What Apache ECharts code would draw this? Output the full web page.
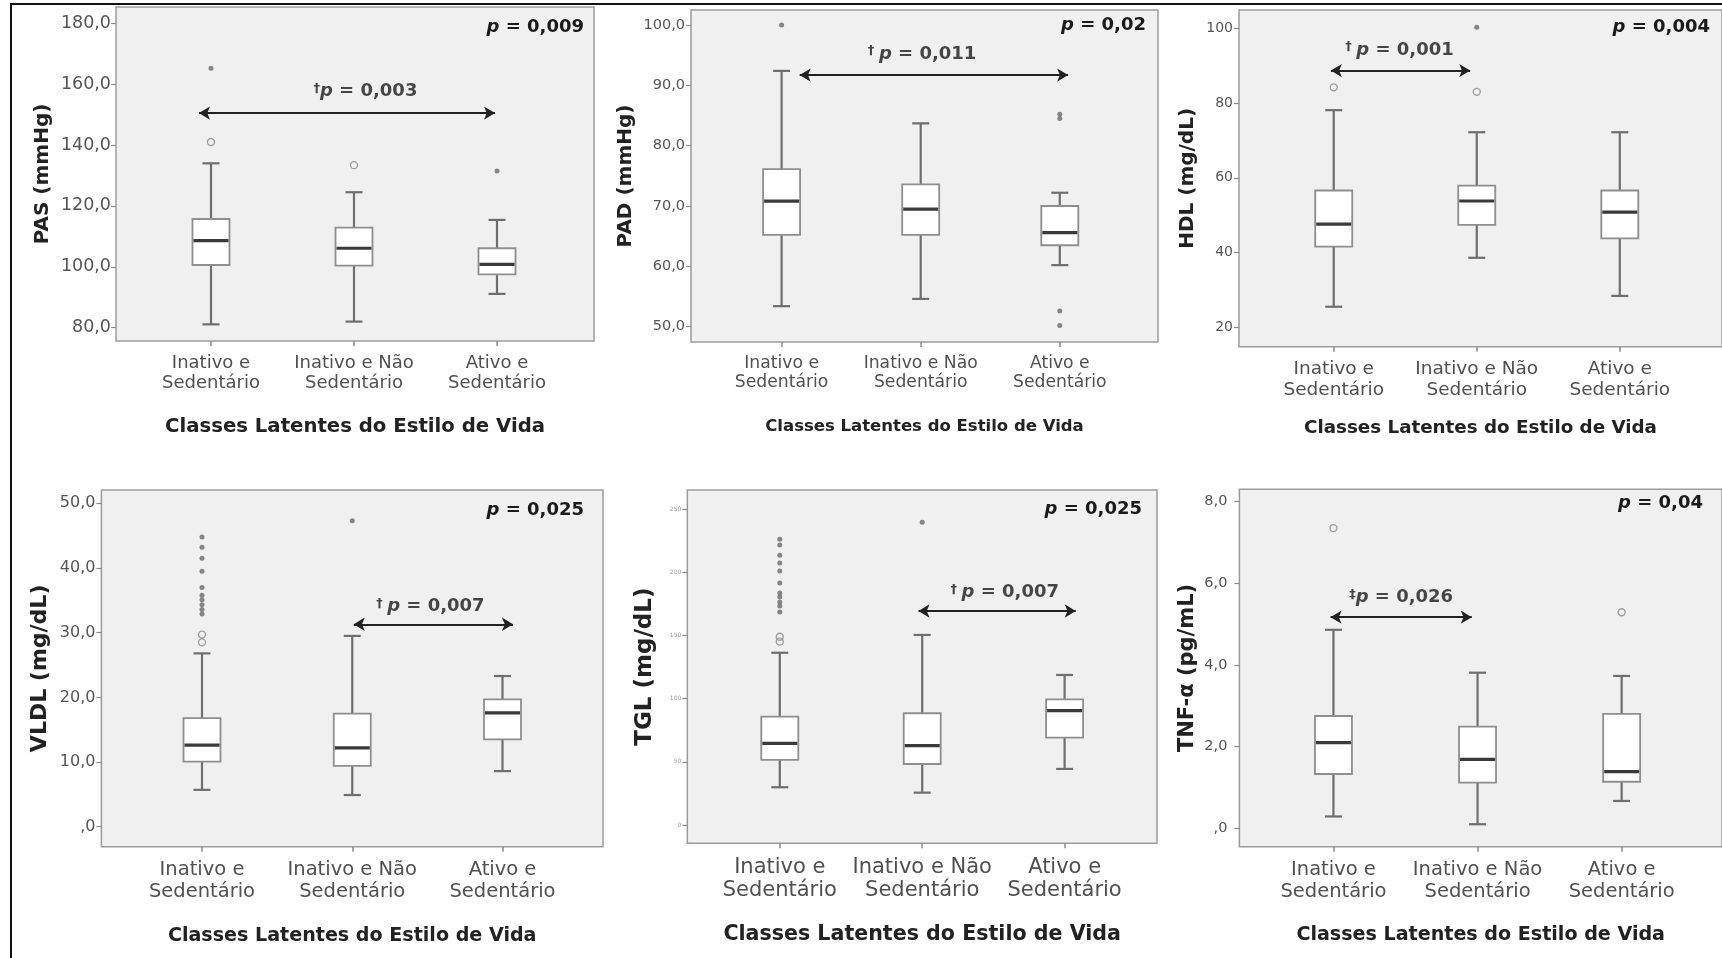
<!DOCTYPE html>
<html>
<head>
<meta charset="utf-8">
<script src="https://cdn.jsdelivr.net/npm/echarts@6/dist/echarts.min.js"></script>
<style>html,body{margin:0;padding:0;background:#fff;}#c{width:1722px;height:958px;}</style>
</head>
<body>
<div id="c"></div>
<script>
// ---------- DATA ----------
const categories = ['Inativo e\nSedentário', 'Inativo e Não\nSedentário', 'Ativo e\nSedentário'];
const xTitle = 'Classes Latentes do Estilo de Vida';
const yTitles = ['PAS (mmHg)', 'PAD (mmHg)', 'HDL (mg/dL)', 'VLDL (mg/dL)', 'TGL (mg/dL)', 'TNF-α (pg/mL)'];

// [min whisker, Q1, median, Q3, max whisker] per class
const pasBox  = [[81.1, 100.6, 108.6, 115.7, 134.0], [82.0, 100.4, 106.1, 112.9, 124.5], [91.1, 97.5, 100.8, 106.1, 115.4]];
const padBox  = [[53.4, 65.2, 70.8, 76.1, 92.4], [54.6, 65.2, 69.5, 73.6, 83.7], [60.2, 63.5, 65.6, 70.0, 72.2]];
const hdlBox  = [[25.5, 41.6, 47.6, 56.6, 78.1], [38.6, 47.4, 53.8, 57.9, 72.2], [28.4, 43.8, 50.8, 56.6, 72.2]];
const vldlBox = [[5.7, 10.05, 12.6, 16.8, 26.8], [4.9, 9.4, 12.2, 17.5, 29.5], [8.6, 13.5, 17.6, 19.7, 23.3]];
const tglBox  = [[29.9, 51.5, 64.7, 85.8, 136.4], [25.6, 48.3, 62.8, 88.5, 150.5], [44.4, 69.2, 90.5, 99.5, 118.8]];
const tnfBox  = [[0.29, 1.33, 2.10, 2.75, 4.86], [0.10, 1.12, 1.69, 2.49, 3.81], [0.67, 1.14, 1.39, 2.80, 3.73]];

// outliers: [class index, value]
const pasCircles  = [[0, 141.0], [1, 133.4]];
const pasStars    = [[0, 165.2], [2, 131.5]];
const padCircles  = [];
const padStars    = [[0, 100.0], [2, 85.2], [2, 84.5], [2, 52.6], [2, 50.2]];
const hdlCircles  = [[0, 84.2], [1, 83.0]];
const hdlStars    = [[1, 100.3]];
const vldlCircles = [[0, 28.5], [0, 29.7]];
const vldlStars   = [[0, 32.9], [0, 33.6], [0, 34.3], [0, 35.1], [0, 35.8], [0, 37.0], [0, 39.5], [0, 41.5], [0, 43.2], [0, 44.8], [1, 47.3]];
const tglCircles  = [[0, 145.2], [0, 149.1]];
const tglStars    = [[0, 168.7], [0, 173.4], [0, 176.6], [0, 180.5], [0, 183.7], [0, 191.6], [0, 201.1], [0, 207.4], [0, 213.7], [0, 221.7], [0, 226.2], [1, 239.7]];
const tnfCircles  = [[0, 7.35], [2, 5.29]];
const tnfStars    = [];

// tick labels
const pasTicks  = [80, 100, 120, 140, 160, 180];
const padTicks  = [50, 60, 70, 80, 90, 100];
const hdlTicks  = [20, 40, 60, 80, 100];
const vldlTicks = [0, 10, 20, 30, 40, 50];
const tglTicks  = [0, 50, 100, 150, 200, 250];
const tnfTicks  = [0, 2, 4, 6, 8];

// p-values
const pGlobal = ['0,009', '0,02', '0,004', '0,025', '0,025', '0,04'];
const pPair   = ['0,003', '0,011', '0,001', '0,007', '0,007', '0,026'];
const pMark   = ['†', '† ', '† ', '† ', '† ', '‡'];
// pairwise comparison arrows: [from class pos, to class pos, value level]
const arrowSpan  = [[-0.084, 1.986], [0.13, 2.06], [-0.02, 0.954], [1.01, 2.07], [0.974, 2.078], [-0.02, 0.96]];
const arrowLevel = [150.5, 91.7, 88.7, 31.3, 169.5, 5.17];
const pairTextAt = [[1.08, 157.5], [1.01, 95.2], [0.46, 94.2], [1.52, 34.0], [1.58, 184.0], [0.47, 5.66]];

// ---------- LAYOUT (pixels / styles) ----------
const layout = [
  {L:116,   R:594,  T:7,     B:341,   c0:211,    s:143,    ymin:75.63, ymax:185.35, fmt:'d1', yLab:17.5, yMargin:5,  cat:18,   xName:19.7, yName:20, yGap:63, xGap:76, pR:584,  pY:27},
  {L:691,   R:1158, T:10,    B:342,   c0:781.6,  s:139.1,  ymin:47.46, ymax:102.49, fmt:'d1', yLab:14.5, yMargin:6,  cat:17.2, xName:16.5, yName:20, yGap:55, xGap:76, pR:1146, pY:25},
  {L:1239,  R:1730, T:10,    B:346.7, c0:1335.3, s:145.4,  ymin:14.81, ymax:104.9,  fmt:'i',  yLab:14,   yMargin:6,  cat:18.5, xName:18.3, yName:20, yGap:41, xGap:73, pR:1710, pY:27},
  {L:101.4, R:603,  T:490,   B:846.7, c0:202,    s:150.25, ymin:-3.09, ymax:52.06,  fmt:'d1', yLab:16,   yMargin:6,  cat:19.5, xName:19.1, yName:22, yGap:50, xGap:80, pR:584,  pY:510},
  {L:687.3, R:1157, T:490,   B:843.3, c0:779.8,  s:142.4,  ymin:-14.5, ymax:265.3,  fmt:'i',  yLab:6,    yMargin:6,  cat:21,   xName:20.6, yName:23, yGap:31, xGap:81, pR:1142, pY:509},
  {L:1239.4,R:1730, T:489.3, B:846.7, c0:1335,   s:146.5,  ymin:-0.45, ymax:8.30,   fmt:'d1', yLab:14.5, yMargin:12, cat:19.5, xName:19.1, yName:21, yGap:41, xGap:79, pR:1703, pY:503}
];

const boxes   = [pasBox, padBox, hdlBox, vldlBox, tglBox, tnfBox];
const circles = [pasCircles, padCircles, hdlCircles, vldlCircles, tglCircles, tnfCircles];
const stars   = [pasStars, padStars, hdlStars, vldlStars, tglStars, tnfStars];
const ticks   = [pasTicks, padTicks, hdlTicks, vldlTicks, tglTicks, tnfTicks];

const FONT = 'DejaVu Sans';
const grids = [], xAxes = [], yAxes = [], series = [], graphics = [];

function renderBox(params, api) {
  const x = api.value(0);
  const lo = api.coord([x, api.value(1)]);
  const q1 = api.coord([x, api.value(2)]);
  const md = api.coord([x, api.value(3)]);
  const q3 = api.coord([x, api.value(4)]);
  const hi = api.coord([x, api.value(5)]);
  const cx = lo[0], hw = 18.5, cw = 8.5;
  const wl = {stroke: '#6e6e6e', lineWidth: 2.2};
  return {type: 'group', children: [
    {type: 'line', shape: {x1: cx, y1: hi[1], x2: cx, y2: q3[1]}, style: wl},
    {type: 'line', shape: {x1: cx, y1: q1[1], x2: cx, y2: lo[1]}, style: wl},
    {type: 'line', shape: {x1: cx - cw, y1: hi[1], x2: cx + cw, y2: hi[1]}, style: wl},
    {type: 'line', shape: {x1: cx - cw, y1: lo[1], x2: cx + cw, y2: lo[1]}, style: wl},
    {type: 'rect', shape: {x: cx - hw, y: q3[1], width: 2 * hw, height: q1[1] - q3[1]}, style: {fill: '#ffffff', stroke: '#8e8e8e', lineWidth: 1.8}},
    {type: 'line', shape: {x1: cx - hw + 1, y1: md[1], x2: cx + hw - 1, y2: md[1]}, style: {stroke: '#3a3a3a', lineWidth: 3.2}}
  ]};
}

function fmtVal(mode) {
  return function (v) {
    if (mode === 'i') return String(v);
    return v === 0 ? ',0' : v.toFixed(1).replace('.', ',');
  };
}

layout.forEach(function (p, i) {
  const xmin = (p.L - p.c0) / p.s, xmax = (p.R - p.c0) / p.s;
  grids.push({left: p.L, top: p.T, width: p.R - p.L, height: p.B - p.T, show: true,
    backgroundColor: '#f0f0f0', borderColor: '#9c9c9c', borderWidth: 1.5, containLabel: false});
  xAxes.push({type: 'value', gridIndex: i, min: xmin, max: xmax,
    axisLine: {show: false, onZero: false}, splitLine: {show: false},
    axisTick: {show: true, customValues: [0, 1, 2], length: 5, lineStyle: {color: '#8a8a8a', width: 1.5}},
    axisLabel: {show: true, customValues: [0, 1, 2], formatter: function (v) { return categories[Math.round(v)]; },
      fontFamily: FONT, fontSize: p.cat, lineHeight: p.cat * 1.12, color: '#505050', margin: 12},
    name: xTitle, nameLocation: 'middle', nameGap: p.xGap,
    nameTextStyle: {fontFamily: FONT, fontWeight: 'bold', fontSize: p.xName, color: '#222'}
  });
  yAxes.push({type: 'value', gridIndex: i, min: p.ymin, max: p.ymax,
    axisLine: {show: false, onZero: false}, splitLine: {show: false},
    axisTick: {show: true, customValues: ticks[i], length: 5, lineStyle: {color: '#8a8a8a', width: 1.2}},
    axisLabel: {show: true, customValues: ticks[i], formatter: fmtVal(p.fmt), fontFamily: FONT,
      fontSize: p.yLab, color: p.yLab < 10 ? '#999' : '#555', margin: p.yMargin},
    name: yTitles[i], nameLocation: 'middle', nameGap: p.yGap,
    nameTextStyle: {fontFamily: FONT, fontWeight: 'bold', fontSize: p.yName, color: '#222'}
  });
  series.push({type: 'custom', xAxisIndex: i, yAxisIndex: i, renderItem: renderBox,
    encode: {x: 0, y: [1, 2, 3, 4, 5]},
    data: boxes[i].map(function (b, j) { return [j].concat(b); }), z: 2});
  series.push({type: 'scatter', xAxisIndex: i, yAxisIndex: i, data: circles[i], symbol: 'circle', symbolSize: 7,
    itemStyle: {color: 'rgba(0,0,0,0)', borderColor: '#8a8a8a', borderWidth: 1.4}, z: 3});
  series.push({type: 'scatter', xAxisIndex: i, yAxisIndex: i, data: stars[i], symbol: 'circle', symbolSize: 5,
    itemStyle: {color: '#6a6a6a'}, z: 3});
  series.push({type: 'scatter', xAxisIndex: i, yAxisIndex: i, data: [pairTextAt[i]], symbolSize: 0, z: 4,
    label: {show: true, position: 'inside', fontFamily: FONT, color: '#1a1a1a',
      formatter: '{d|' + pMark[i] + '}{p|p}{t| = ' + pPair[i] + '}',
      rich: {d: {fontSize: 13, fontWeight: 'bold', fontFamily: FONT, color: '#1a1a1a', padding: [0, 0, 6, 0]},
             p: {fontSize: 18, fontWeight: 'bold', fontStyle: 'italic', fontFamily: FONT, color: '#1a1a1a'},
             t: {fontSize: 18, fontWeight: 'bold', fontFamily: FONT, color: '#1a1a1a'}}},
    markLine: {silent: true, symbol: ['arrow', 'arrow'], symbolSize: [10, 11], animation: false,
      lineStyle: {color: '#222', width: 2, type: 'solid'}, label: {show: false},
      data: [[{coord: [arrowSpan[i][0], arrowLevel[i]]}, {coord: [arrowSpan[i][1], arrowLevel[i]]}]]}
  });
  graphics.push({type: 'text', x: p.pR, y: p.pY, z: 10,
    style: {text: '{p|p}{t| = ' + pGlobal[i] + '}', align: 'right', verticalAlign: 'middle',
      rich: {p: {fontSize: 18, fontWeight: 'bold', fontStyle: 'italic', fontFamily: FONT, fill: '#1a1a1a'},
             t: {fontSize: 18, fontWeight: 'bold', fontFamily: FONT, fill: '#1a1a1a'}}}});
});

graphics.push({type: 'line', shape: {x1: 10, y1: 4, x2: 1722, y2: 4}, style: {stroke: '#111', lineWidth: 2}, z: 20});
graphics.push({type: 'line', shape: {x1: 11, y1: 4, x2: 11, y2: 958}, style: {stroke: '#111', lineWidth: 2}, z: 20});

const chart = echarts.init(document.getElementById('c'), null, {renderer: 'canvas'});
chart.setOption({
  animation: false,
  backgroundColor: '#ffffff',
  grid: grids, xAxis: xAxes, yAxis: yAxes, series: series, graphic: graphics
});
</script>
</body>
</html>
